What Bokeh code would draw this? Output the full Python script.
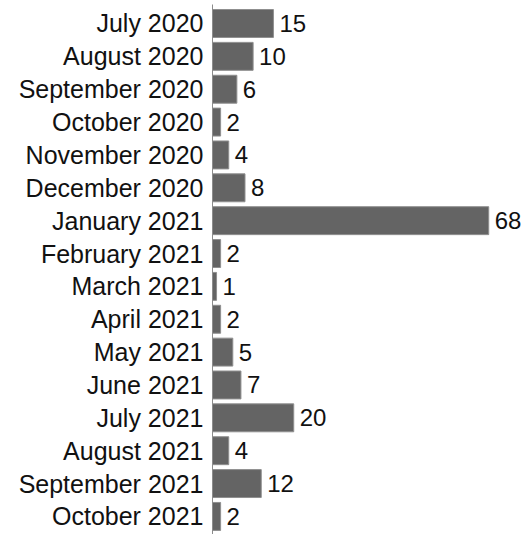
from bokeh.plotting import figure
from bokeh.models import Range1d, FixedTicker, ColumnDataSource, LabelSet
from bokeh.core.properties import value
from bokeh.embed import file_html
from bokeh.resources import INLINE

months = ["July 2020", "August 2020", "September 2020", "October 2020",
          "November 2020", "December 2020", "January 2021", "February 2021",
          "March 2021", "April 2021", "May 2021", "June 2021", "July 2021",
          "August 2021", "September 2021", "October 2021"]
counts = [15, 10, 6, 2, 4, 8, 68, 2, 1, 2, 5, 7, 20, 4, 12, 2]

pos = list(range(len(months)))
src = ColumnDataSource(dict(y=pos, right=counts, label=[str(c) for c in counts]))

p = figure(width=526, height=534, output_backend="svg", toolbar_location=None,
           x_range=Range1d(0, 77.3), y_range=Range1d(len(months) - 1 + 0.55, -0.578),
           min_border_left=212, min_border_right=0, min_border_top=4, min_border_bottom=0)

p.hbar(y="y", left=0, right="right", height=0.85, source=src,
       fill_color="#646464", line_color="#8f8f8f", line_width=1)

labels = LabelSet(x="right", y="y", text="label", source=src, x_offset=6,
                  text_baseline="middle", text_font=value("Liberation Sans"),
                  text_font_size="24px", text_color="#111111")
p.add_layout(labels)

p.xaxis.visible = False
p.xgrid.visible = False
p.ygrid.visible = False
p.outline_line_color = None

ya = p.yaxis[0]
ya.ticker = FixedTicker(ticks=pos)
ya.major_label_overrides = {i: m for i, m in enumerate(months)}
ya.major_tick_line_color = None
ya.minor_tick_line_color = None
ya.major_tick_out = 0
ya.major_tick_in = 0
ya.major_label_standoff = 9
ya.axis_line_color = "#8c8c8c"
ya.axis_line_width = 1
ya.major_label_text_font = "Liberation Sans"
ya.major_label_text_font_size = "25px"
ya.major_label_text_color = "#111111"

open("out.html", "w").write(file_html(p, INLINE))
